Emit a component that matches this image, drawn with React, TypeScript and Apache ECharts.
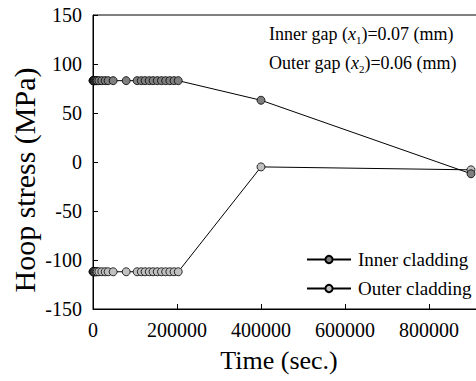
import React, { useEffect, useRef } from "react";
import * as echarts from "echarts";

const times = [0, 500, 1000, 2000, 3000, 4000, 6000, 8000, 10000, 14000, 21000, 29000, 36000, 48000, 79000, 105000, 115000, 124000, 134000, 143000, 153000, 163000, 173000, 183000, 193000, 203000, 400000, 900000];
const innerStress = [83, 83, 83, 83, 83, 83, 83, 83, 83, 83, 83, 83, 83, 83, 83, 83, 83, 83, 83, 83, 83, 83, 83, 83, 83, 83, 63, -12];
const outerStress = [-112, -112, -112, -112, -112, -112, -112, -112, -112, -112, -112, -112, -112, -112, -112, -112, -112, -112, -112, -112, -112, -112, -112, -112, -112, -112, -5, -8];
const seriesNames = ["Inner cladding", "Outer cladding"];
const xTitle = "Time (sec.)";
const yTitle = "Hoop stress (MPa)";

const FONT = "Liberation Serif";

export default function App() {
  const ref = useRef<HTMLDivElement>(null);
  useEffect(() => {
    if (!ref.current) return;
    const chart = echarts.init(ref.current, null, { renderer: "svg" });
    const richBase = {
      n: { fontFamily: FONT, fontSize: 18, color: "#000" },
      i: { fontFamily: FONT, fontSize: 18, fontStyle: "italic", color: "#000" },
      s: { fontFamily: FONT, fontSize: 11, color: "#000", padding: [12, 0, 0, 0] },
    };
    chart.setOption({
      animation: false,
      backgroundColor: "#fff",
      grid: {
        left: 93,
        top: 15,
        width: 420,
        height: 294,
        show: true,
        borderColor: "#000",
        borderWidth: 1,
        outerBoundsMode: "none",
        containLabel: false,
      },
      xAxis: {
        type: "value",
        min: 0,
        max: 1000000,
        interval: 200000,
        axisLine: { onZero: false, lineStyle: { color: "#000", width: 1 } },
        axisTick: { inside: true, length: 5, lineStyle: { color: "#000" } },
        splitLine: { show: false },
        axisLabel: {
          fontFamily: FONT,
          fontSize: 20,
          color: "#000",
          margin: 11,
          showMaxLabel: false,
          formatter: (v: number) => (v >= 1000000 ? "" : String(v)),
        },
      },
      yAxis: {
        type: "value",
        min: -150,
        max: 150,
        interval: 50,
        axisLine: { show: true, onZero: false, lineStyle: { color: "#000", width: 1 } },
        axisTick: { show: true, inside: true, length: 5, lineStyle: { color: "#000" } },
        splitLine: { show: false },
        axisLabel: {
          fontFamily: FONT,
          fontSize: 20,
          color: "#000",
          margin: 11,
          formatter: (v: number) => String(v),
        },
      },
      legend: {
        orient: "vertical",
        left: 301,
        top: 245,
        itemWidth: 44,
        itemHeight: 9,
        itemGap: 10,
        data: seriesNames,
        textStyle: { fontFamily: FONT, fontSize: 19, color: "#000", padding: [0, 0, 0, 2] },
      },
      series: [
        {
          name: seriesNames[0],
          type: "line",
          data: times.map((t, i) => [t, innerStress[i]]),
          symbol: "circle",
          symbolSize: 8,
          showAllSymbol: true,
          lineStyle: { color: "#000", width: 1 },
          itemStyle: { color: "#7f7f7f", borderColor: "#000", borderWidth: 0.8 },
          z: 3,
        },
        {
          name: seriesNames[1],
          type: "line",
          data: times.map((t, i) => [t, outerStress[i]]),
          symbol: "circle",
          symbolSize: 8,
          showAllSymbol: true,
          lineStyle: { color: "#000", width: 1 },
          itemStyle: { color: "#c0c0c0", borderColor: "#000", borderWidth: 0.8 },
          z: 2,
        },
      ],
      graphic: [
        {
          type: "text",
          x: 279,
          y: 360,
          style: { text: xTitle, fontFamily: FONT, fontSize: 26, fill: "#000", align: "center", verticalAlign: "middle" },
        },
        {
          type: "text",
          x: 24,
          y: 180,
          rotation: Math.PI / 2,
          style: { text: yTitle, fontFamily: FONT, fontSize: 30, fill: "#000", align: "center", verticalAlign: "middle" },
        },
        {
          type: "text",
          x: 269,
          y: 22,
          style: {
            text: "{n|Inner gap (}{i|x}{s|1}{n|)=0.07 (mm)}",
            rich: richBase,
            align: "left",
            verticalAlign: "top",
          },
        },
        {
          type: "text",
          x: 269,
          y: 51,
          style: {
            text: "{n|Outer gap (}{i|x}{s|2}{n|)=0.06 (mm)}",
            rich: richBase,
            align: "left",
            verticalAlign: "top",
          },
        },
      ],
    });
    return () => chart.dispose();
  }, []);
  return (
    <div
      ref={ref}
      style={{ position: "fixed", left: 0, top: 0, width: 476, height: 381, overflow: "hidden" }}
    />
  );
}
